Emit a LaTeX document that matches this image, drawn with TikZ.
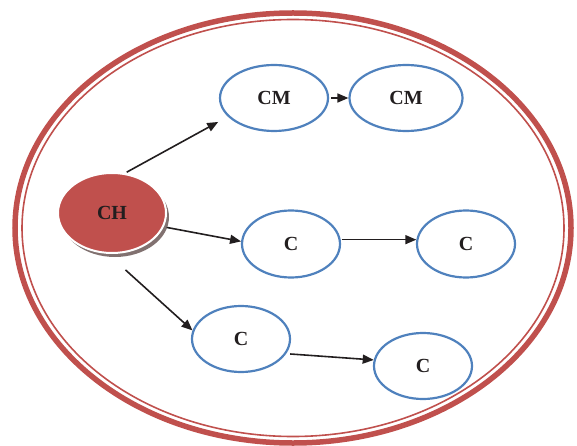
\documentclass[tikz,border=0pt]{standalone}
\usepackage{fontspec}
\setmainfont{Liberation Serif}
\usetikzlibrary{arrows.meta,shapes.geometric,shadows}
\definecolor{ovred}{RGB}{192,80,77}
\definecolor{ovblue}{RGB}{79,129,189}
\definecolor{ovshadow}{RGB}{115,98,96}
\definecolor{ovtext}{RGB}{34,30,31}

\begin{document}
\begin{tikzpicture}[x=1pt,y=-1pt,
  font=\bfseries\fontsize{20}{24}\selectfont,text=ovtext,
  ov/.style={ellipse,draw=ovblue,line width=2.2pt,inner sep=0pt,minimum width=98pt,minimum height=67pt},
  arr/.style={line width=1.6pt,draw=ovtext,-{Triangle[length=11pt,width=9pt]}}]
  \useasboundingbox (0,0) rectangle (577,446);
  % outer double border
  \draw[ovred,line width=5.5pt] (293,228) ellipse [x radius=278,y radius=215];
  \draw[ovred,line width=1.6pt] (293,228) ellipse [x radius=271,y radius=208.5];
  % nodes
  \node[ellipse,fill=ovred,draw=white,line width=2pt,minimum width=108pt,minimum height=80pt,inner sep=0pt,
    drop shadow={shadow xshift=3pt,shadow yshift=-4pt,fill=ovshadow,opacity=0.9}] (ch) at (112,213) {CH};
  \node[ov,minimum width=108pt,minimum height=66pt] (cm1) at (274,98) {CM};
  \node[ov,minimum width=113pt,minimum height=66pt] (cm2) at (406,98) {CM};
  \node[ov] (c1) at (291,244) {C};
  \node[ov] (c2) at (466,244) {C};
  \node[ov,minimum height=66pt] (c3) at (241,339) {C};
  \node[ov,minimum height=66pt] (c4) at (423,366) {C};
  % arrows
  \draw[arr,shorten <=2pt,shorten >=11pt] (ch.72) -- (cm1.202);
  \draw[arr,shorten <=3pt] (ch.345) -- (c1.177);
  \draw[arr,shorten <=24pt] (ch.264) -- (c3.170);
  \draw[arr,shorten <=2pt] (cm1.east) -- (cm2.west);
  \draw[arr,shorten <=1pt] (c1.5) -- (c2.175);
  \draw[arr,shorten <=4pt] (c3.342) -- (c4.173);
\end{tikzpicture}
\end{document}
